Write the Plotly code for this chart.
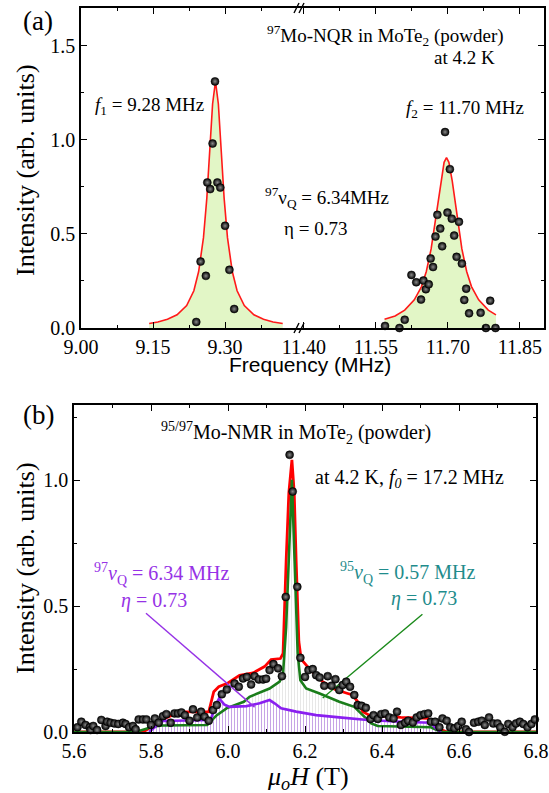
import plotly.graph_objects as go

# ---------------- Panel (a): 97Mo-NQR ----------------
nqr1_freq = [9.240, 9.249, 9.260, 9.263, 9.269, 9.274, 9.279, 9.284, 9.290, 9.300, 9.309, 9.319]
nqr1_int = [0.032, 0.353, 0.277, 0.773, 0.738, 0.980, 1.310, 0.773, 0.746, 0.543, 0.309, 0.101]

nqr2_freq = [11.569, 11.599, 11.610, 11.624, 11.634, 11.644, 11.649, 11.654, 11.660, 11.664,
             11.669, 11.674, 11.678, 11.684, 11.688, 11.694, 11.699, 11.704, 11.708, 11.713,
             11.718, 11.723, 11.729, 11.734, 11.738, 11.744, 11.768, 11.779, 11.788, 11.799]
nqr2_int = [0.011, 0.000, 0.044, 0.282, 0.243, 0.151, 0.252, 0.206, 0.232, 0.369,
            0.324, 0.486, 0.601, 0.528, 0.434, 1.041, 0.613, 0.844, 0.581, 0.491,
            0.378, 0.564, 0.342, 0.149, 0.209, 0.078, 0.081, 0.000, 0.145, 0.000]

fit1_freq = [9.142, 9.160, 9.180, 9.200, 9.220, 9.235, 9.245, 9.255, 9.262, 9.268, 9.274, 9.280,
             9.286, 9.292, 9.298, 9.305, 9.315, 9.325, 9.340, 9.360, 9.380, 9.400, 9.420]
fit1_int = [0.024, 0.032, 0.046, 0.070, 0.119, 0.198, 0.30, 0.48, 0.69, 0.94, 1.19, 1.31,
            1.19, 0.94, 0.69, 0.48, 0.30, 0.198, 0.119, 0.070, 0.046, 0.032, 0.024]

fit2_freq = [11.568, 11.590, 11.610, 11.630, 11.645, 11.655, 11.665, 11.675, 11.685, 11.692, 11.697,
             11.702, 11.709, 11.719, 11.729, 11.739, 11.749, 11.764, 11.784, 11.800]
fit2_int = [0.046, 0.064, 0.095, 0.15, 0.22, 0.30, 0.42, 0.59, 0.78, 0.88, 0.905,
            0.88, 0.78, 0.59, 0.42, 0.30, 0.22, 0.15, 0.095, 0.07]

xa1_ticks = [9.00, 9.15, 9.30]
xa1_ticklabels = ["9.00", "9.15", "9.30"]
xa1_minor = [9.075, 9.225, 9.375]
xa2_ticks = [11.40, 11.55, 11.70, 11.85]
xa2_ticklabels = ["11.40", "11.55", "11.70", "11.85"]
xa2_minor = [11.475, 11.625, 11.775]
ya_ticks = [0.0, 0.5, 1.0, 1.5]
ya_ticklabels = ["0.0", "0.5", "1.0", "1.5"]

# ---------------- Panel (b): 95/97Mo-NMR ----------------
nmr_field = [5.609, 5.619, 5.630, 5.641, 5.643, 5.650, 5.660, 5.671, 5.682, 5.686, 5.695, 5.705,
             5.715, 5.727, 5.734, 5.743, 5.753, 5.760, 5.768, 5.779, 5.788, 5.800, 5.810, 5.820,
             5.831, 5.840, 5.851, 5.861, 5.870, 5.879, 5.888, 5.900, 5.909, 5.920, 5.930, 5.939,
             5.950, 5.961, 5.971, 5.984, 5.997,
             6.017, 6.028, 6.039, 6.049, 6.060, 6.069, 6.080, 6.091, 6.099, 6.108, 6.118, 6.130,
             6.140, 6.150, 6.160, 6.168, 6.180, 6.188, 6.200, 6.209, 6.220, 6.229, 6.238, 6.250,
             6.259, 6.269, 6.279,
             6.289, 6.298, 6.307, 6.317, 6.328, 6.337, 6.347, 6.358, 6.370, 6.378, 6.389, 6.398,
             6.408, 6.419, 6.430, 6.439, 6.449, 6.460, 6.468, 6.480, 6.490, 6.500, 6.510, 6.520,
             6.527, 6.538, 6.549, 6.557, 6.568, 6.577, 6.588, 6.598, 6.607, 6.618, 6.626, 6.639,
             6.650, 6.659, 6.667, 6.678, 6.689, 6.700, 6.707, 6.719, 6.728, 6.739, 6.748, 6.758,
             6.767, 6.778, 6.788, 6.797]
nmr_int = [0.019, 0.041, 0.028, 0.019, 0.008, 0.024, 0.008, 0.048, 0.024, 0.041, 0.037, 0.034,
           0.032, 0.037, 0.032, 0.019, 0.024, 0.011, 0.050, 0.050, 0.050, 0.028, 0.054, 0.037,
           0.063, 0.071, 0.037, 0.074, 0.074, 0.078, 0.067, 0.045, 0.090, 0.058, 0.081, 0.061,
           0.045, 0.087, 0.107, 0.150, 0.169,
           0.193, 0.180, 0.213, 0.219, 0.189, 0.222, 0.209, 0.209, 0.212, 0.246, 0.270, 0.253,
           0.222, 0.537, 1.102, 0.956, 0.577, 0.295, 0.219, 0.246, 0.250, 0.226, 0.217, 0.184,
           0.222, 0.184, 0.210,
           0.167, 0.187, 0.200, 0.180, 0.147, 0.107, 0.104, 0.096, 0.052, 0.067, 0.052, 0.071,
           0.074, 0.058, 0.054, 0.081, 0.028, 0.037, 0.045, 0.038, 0.058, 0.067, 0.071, 0.074,
           0.041, 0.041, 0.019, 0.054, 0.045, 0.019, 0.015, 0.024, 0.041, 0.011, 0.000, 0.037,
           0.041, 0.045, 0.028, 0.058, 0.034, 0.034, 0.019, 0.001, 0.032, 0.019, 0.034, 0.041,
           0.032, 0.019, 0.032, 0.050]

sim_total_field = [5.60, 5.78, 5.80, 5.83, 5.86, 5.89, 5.95, 5.963, 5.976, 6.000, 6.030, 6.065,
                   6.095, 6.112, 6.136, 6.143, 6.151, 6.158, 6.166, 6.172, 6.177, 6.184, 6.190,
                   6.212, 6.246, 6.277, 6.311, 6.324, 6.337, 6.350, 6.367, 6.449, 6.519, 6.531,
                   6.544, 6.570, 6.80]
sim_total_int = [0.0, 0.0, 0.02, 0.05, 0.07, 0.08, 0.08, 0.16, 0.18, 0.195, 0.225, 0.235,
                 0.26, 0.288, 0.292, 0.312, 0.68, 0.95, 1.082, 0.95, 0.68, 0.36, 0.29,
                 0.25, 0.20, 0.17, 0.153, 0.147, 0.12, 0.081, 0.067, 0.058, 0.054, 0.034,
                 0.015, 0.0, 0.0]

sim95_field = [5.60, 5.76, 5.807, 5.83, 5.946, 5.971, 5.997, 6.041, 6.056, 6.108, 6.134, 6.143,
               6.151, 6.158, 6.166, 6.173, 6.181, 6.188, 6.203, 6.238, 6.289, 6.328, 6.341,
               6.372, 6.389, 6.527, 6.553, 6.80]
sim95_int = [0.0, 0.0, 0.022, 0.026, 0.028, 0.067, 0.095, 0.12, 0.14, 0.173, 0.20, 0.233,
             0.418, 0.68, 1.003, 0.68, 0.312, 0.206, 0.173, 0.153, 0.12, 0.10, 0.081,
             0.034, 0.024, 0.019, 0.0, 0.0]

sim97_field = [5.795, 5.829, 5.955, 5.966, 5.977, 5.990, 6.004, 6.048, 6.082, 6.108, 6.121,
               6.138, 6.177, 6.229, 6.289, 6.363, 6.449, 6.527, 6.540, 6.553]
sim97_int = [0.0, 0.044, 0.048, 0.10, 0.134, 0.11, 0.10, 0.103, 0.114, 0.127, 0.114,
             0.094, 0.081, 0.067, 0.058, 0.048, 0.041, 0.037, 0.015, 0.0]

xb_ticks = [5.6, 5.8, 6.0, 6.2, 6.4, 6.6, 6.8]
xb_ticklabels = ["5.6", "5.8", "6.0", "6.2", "6.4", "6.6", "6.8"]
xb_minor = [5.7, 5.9, 6.1, 6.3, 6.5, 6.7]
yb_ticks = [0.0, 0.5, 1.0]
yb_ticklabels = ["0.0", "0.5", "1.0"]

pointer97_field = [5.787, 6.069]
pointer97_int = [0.472, 0.099]
pointer95_field = [6.505, 6.246]
pointer95_int = [0.468, 0.135]

SERIF = "Liberation Serif"
SANS = "Liberation Sans"
W, H = 549, 793


def P(px, py):
    return px / W, 1 - py / H


fig = go.Figure()

# ---- panel (a) traces ----
fig.add_trace(go.Scatter(x=fit1_freq, y=fit1_int, mode="lines", line=dict(color="#ff1a1a", width=1.6),
                         fill="tozeroy", fillcolor="#e2f6c6", xaxis="x", yaxis="y", showlegend=False))
fig.add_trace(go.Scatter(x=fit2_freq, y=fit2_int, mode="lines", line=dict(color="#ff1a1a", width=1.6),
                         fill="tozeroy", fillcolor="#e2f6c6", xaxis="x2", yaxis="y2", showlegend=False))

ball = dict(size=8, color="#000000", gradient=dict(type="radial", color="#8a8a8a"),
            line=dict(width=0.5, color="#000000"))
fig.add_trace(go.Scatter(x=nqr1_freq, y=nqr1_int, mode="markers", marker=ball, cliponaxis=False,
                         xaxis="x", yaxis="y", showlegend=False))
fig.add_trace(go.Scatter(x=nqr2_freq, y=nqr2_int, mode="markers", marker=ball, cliponaxis=False,
                         xaxis="x2", yaxis="y2", showlegend=False))

# ---- panel (b) traces ----
fig.add_trace(go.Scatter(x=sim95_field, y=sim95_int, mode="none", fill="tozeroy",
                         fillcolor="rgba(0,0,0,0)",
                         fillpattern=dict(shape="|", fgcolor="rgba(150,150,150,0.6)",
                                          bgcolor="rgba(255,255,255,0)", size=3, solidity=0.25),
                         xaxis="x3", yaxis="y3", showlegend=False))
fig.add_trace(go.Scatter(x=sim97_field, y=sim97_int, mode="none", fill="tozeroy",
                         fillcolor="rgba(0,0,0,0)",
                         fillpattern=dict(shape="|", fgcolor="rgba(140,40,230,0.7)",
                                          bgcolor="rgba(255,255,255,0)", size=3, solidity=0.35),
                         xaxis="x3", yaxis="y3", showlegend=False))
fig.add_trace(go.Scatter(x=sim_total_field, y=sim_total_int, mode="lines",
                         line=dict(color="#ff0000", width=2.8), xaxis="x3", yaxis="y3", showlegend=False))
fig.add_trace(go.Scatter(x=sim95_field, y=sim95_int, mode="lines",
                         line=dict(color="#1a7d1a", width=2.6), xaxis="x3", yaxis="y3", showlegend=False))
fig.add_trace(go.Scatter(x=sim97_field, y=sim97_int, mode="lines",
                         line=dict(color="#8a1ff0", width=2.6), xaxis="x3", yaxis="y3", showlegend=False))
fig.add_trace(go.Scatter(x=pointer97_field, y=pointer97_int, mode="lines",
                         line=dict(color="#9632e6", width=1.4), xaxis="x3", yaxis="y3", showlegend=False))
fig.add_trace(go.Scatter(x=pointer95_field, y=pointer95_int, mode="lines",
                         line=dict(color="#1a8a1a", width=1.4), xaxis="x3", yaxis="y3", showlegend=False))
fig.add_trace(go.Scatter(x=nmr_field, y=nmr_int, mode="markers", marker=ball, cliponaxis=False,
                         xaxis="x3", yaxis="y3", showlegend=False))

# ---- axes ----
base = dict(showline=True, linecolor="black", linewidth=1.5, ticks="inside", ticklen=6, tickwidth=1.3,
            tickcolor="black", showgrid=False, zeroline=False, ticklabeloverflow="allow",
            automargin=False, tickfont=dict(family=SERIF, size=20, color="black"))
minor = dict(ticks="inside", ticklen=3.5, tickwidth=1.2, tickcolor="black", showgrid=False)

xa_l, _ = P(81, 0)
xa_m, _ = P(300, 0)
xa_r, _ = P(544, 0)
_, ya_b = P(0, 328)
_, ya_t = P(0, 8)
xb_l, _ = P(74, 0)
xb_r, _ = P(536, 0)
_, yb_b = P(0, 732)
_, yb_t = P(0, 405)

fig.update_layout(
    width=W, height=H, margin=dict(l=0, r=0, t=0, b=0, autoexpand=False),
    paper_bgcolor="white", plot_bgcolor="white",
    xaxis=dict(base, domain=[xa_l, xa_m], range=[9.0, 9.456], anchor="y", mirror="allticks",
               tickmode="array", tickvals=xa1_ticks, ticktext=xa1_ticklabels,
               minor=dict(minor, tickmode="array", tickvals=xa1_minor)),
    xaxis2=dict(base, domain=[xa_m, xa_r], range=[11.392, 11.90], anchor="y2", mirror="allticks",
                tickmode="array", tickvals=xa2_ticks, ticktext=xa2_ticklabels,
                minor=dict(minor, tickmode="array", tickvals=xa2_minor)),
    yaxis=dict(base, domain=[ya_b, ya_t], range=[0, 1.70], anchor="x", side="left",
               tickmode="array", tickvals=ya_ticks, ticktext=ya_ticklabels,
               minor=dict(minor, dtick=0.25, tick0=0)),
    yaxis2=dict(base, domain=[ya_b, ya_t], range=[0, 1.70], anchor="x2", side="right",
                showticklabels=False, tickmode="array", tickvals=ya_ticks,
                minor=dict(minor, dtick=0.25, tick0=0)),
    xaxis3=dict(base, domain=[xb_l, xb_r], range=[5.6, 6.8], anchor="y3", mirror="allticks",
                tickmode="array", tickvals=xb_ticks, ticktext=xb_ticklabels,
                minor=dict(minor, tickmode="array", tickvals=xb_minor)),
    yaxis3=dict(base, domain=[yb_b, yb_t], range=[0, 1.30], anchor="x3", mirror="allticks",
                tickmode="array", tickvals=yb_ticks, ticktext=yb_ticklabels,
                minor=dict(minor, dtick=0.25, tick0=0)),
)

# axis-break marks on panel (a)
for py in (328, 8):
    for dx in (-4, 1):
        x0, y0 = P(300 + dx - 2, py + 5)
        x1, y1 = P(300 + dx + 3, py - 5)
        fig.add_shape(type="line", xref="paper", yref="paper", x0=x0, y0=y0, x1=x1, y1=y1,
                      line=dict(color="black", width=1.4))


def note(text, px, py, size=19, color="black", family=SERIF, angle=0):
    x, y = P(px, py)
    fig.add_annotation(text=text, x=x, y=y, xref="paper", yref="paper", showarrow=False,
                       xanchor="center", yanchor="middle", textangle=angle,
                       font=dict(family=family, size=size, color=color))


# panel (a) texts
note("(a)", 38, 21, size=27)
note("<sup>97</sup>Mo-NQR in MoTe<sub>2</sub> (powder)", 385, 36, size=19)
note("at 4.2 K", 464, 58, size=19)
note("<i>f</i><sub>1</sub> = 9.28 MHz", 149, 106, size=19)
note("<i>f</i><sub>2</sub> = 11.70 MHz", 465, 109, size=19)
note("<sup>97</sup>ν<sub>Q</sub> = 6.34MHz", 327, 197, size=19)
note("η = 0.73", 315, 228, size=19)
note("Intensity (arb. units)", 25, 170, size=26, angle=-90)
note("Frequency (MHz)", 310, 364, size=21, family=SANS)

# panel (b) texts
note("(b)", 38, 415, size=27)
note("<sup>95/97</sup>Mo-NMR in MoTe<sub>2</sub> (powder)", 296, 433, size=20)
note("at 4.2 K, <i>f</i><sub><i>0</i></sub> = 17.2 MHz", 409, 478, size=20)
note("<sup>97</sup><i>ν</i><sub>Q</sub> = 6.34 MHz", 162, 574, size=20, color="#9632e6")
note("<i>η</i> = 0.73", 154, 600, size=20, color="#9632e6")
note("<sup>95</sup><i>ν</i><sub>Q</sub> = 0.57 MHz", 408, 573, size=20, color="#1f8c8c")
note("<i>η</i> = 0.73", 424, 598, size=20, color="#1f8c8c")
note("Intensity (arb. units)", 25, 568, size=26, angle=-90)
note("<i>μ</i><sub><i>o</i></sub><i>H</i> (T)", 308, 778, size=26)

fig.write_html("out.html")
